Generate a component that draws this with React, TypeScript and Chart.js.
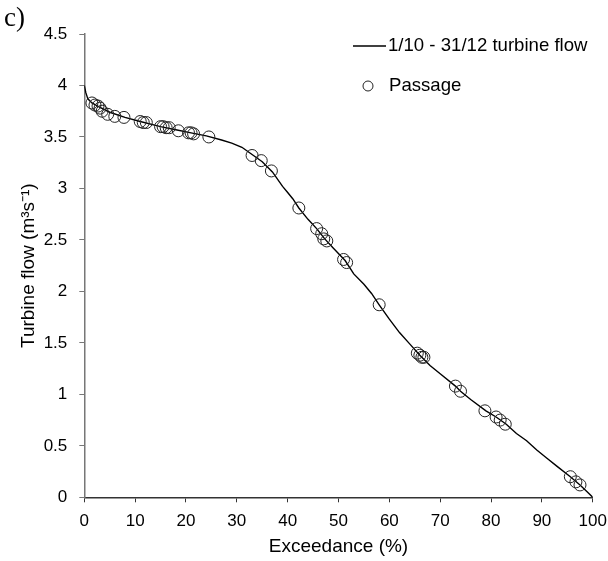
import React, { useEffect, useRef } from "react";
import { Chart, registerables } from "chart.js";

Chart.register(...registerables);

// Flow duration curve (1/10 - 31/12 turbine flow)
const curveExceedance = [
  0, 0.3, 0.7, 1.5, 3, 5, 8, 11, 15, 18, 21, 24, 27, 29, 31, 33, 35, 37, 39, 40,
  41, 42.2, 44, 45.7, 47.3, 49, 51.3, 53, 55, 56.5, 58, 60, 62, 64, 66, 68, 70,
  73, 74, 76, 79, 81, 83, 85, 87, 89, 91, 93, 95.6, 97.5, 99, 100,
];
const curveFlow = [
  4.0, 3.93, 3.87, 3.83, 3.79, 3.74, 3.69, 3.65, 3.6, 3.57, 3.54, 3.51, 3.47,
  3.44, 3.4, 3.33, 3.26, 3.16, 3.02, 2.96, 2.9, 2.81, 2.7, 2.61, 2.51, 2.42,
  2.3, 2.17, 2.07, 1.98, 1.87, 1.73, 1.6, 1.49, 1.38, 1.28, 1.2, 1.08, 1.03,
  0.95, 0.84, 0.78, 0.71, 0.62, 0.55, 0.46, 0.38, 0.3, 0.2, 0.12, 0.05, 0,
];

// Passage events
const passageExceedance = [
  1.5, 2.1, 2.7, 3.1, 3.5, 4.6, 6, 7.8, 11, 11.6, 12.2, 15, 15.5, 16.1, 16.7,
  18.5, 20.5, 21, 21.5, 24.5, 33, 34.8, 36.8, 42.2, 45.7, 46.7, 47.1, 47.7, 51,
  51.6, 58, 65.5, 66, 66.4, 66.8, 73, 74, 78.8, 81, 81.8, 82.8, 95.6, 96.7, 97.5,
];
const passageFlow = [
  3.83, 3.81, 3.8, 3.78, 3.75, 3.72, 3.7, 3.69, 3.65, 3.64, 3.64, 3.6, 3.6,
  3.59, 3.59, 3.56, 3.54, 3.54, 3.53, 3.5, 3.32, 3.27, 3.17, 2.81, 2.61, 2.56,
  2.51, 2.49, 2.31, 2.28, 1.87, 1.4, 1.38, 1.36, 1.36, 1.08, 1.03, 0.84, 0.78,
  0.75, 0.71, 0.2, 0.15, 0.12,
];

const xTicks = [0, 10, 20, 30, 40, 50, 60, 70, 80, 90, 100];
const yTicks = [0, 0.5, 1, 1.5, 2, 2.5, 3, 3.5, 4, 4.5];
const xTickLabels = ["0", "10", "20", "30", "40", "50", "60", "70", "80", "90", "100"];
const yTickLabels = ["0", "0.5", "1", "1.5", "2", "2.5", "3", "3.5", "4", "4.5"];

const seriesNames = ["1/10 - 31/12 turbine flow", "Passage"];
const panelLabel = "c)";
const xTitle = "Exceedance (%)";
const yTitle = "Turbine flow (m\u00B3s\u207B\u00B9)";

const FONT = "'Liberation Sans', Arial, sans-serif";

const W = 608;
const H = 561;
const AREA = { left: 84.3, right: 592.7, top: 34, bottom: 497.3 };

export default function App() {
  const ref = useRef<HTMLCanvasElement | null>(null);

  useEffect(() => {
    document.body.style.margin = "0";
    const canvas = ref.current;
    if (!canvas) return;

    const overlay = {
      id: "overlay",
      afterDraw(chart: any) {
        const ctx = chart.ctx as CanvasRenderingContext2D;
        ctx.save();
        // panel label
        ctx.fillStyle = "#000";
        ctx.font = "27px 'Liberation Serif', 'Times New Roman', serif";
        ctx.textAlign = "left";
        ctx.textBaseline = "alphabetic";
        ctx.fillText(panelLabel, 4, 26);
        // legend
        ctx.font = `18.6px ${FONT}`;
        ctx.textBaseline = "middle";
        ctx.strokeStyle = "#000";
        ctx.lineWidth = 1.5;
        ctx.beginPath();
        ctx.moveTo(353, 46);
        ctx.lineTo(386, 46);
        ctx.stroke();
        ctx.fillText(seriesNames[0], 388, 46);
        ctx.lineWidth = 1;
        ctx.strokeStyle = "#222";
        ctx.beginPath();
        ctx.arc(368, 86, 5, 0, Math.PI * 2);
        ctx.stroke();
        ctx.fillText(seriesNames[1], 389, 86);
        ctx.restore();
      },
    };

    const chart = new Chart(canvas, {
      type: "scatter",
      data: {
        datasets: [
          {
            label: seriesNames[0],
            data: curveExceedance.map((x, i) => ({ x, y: curveFlow[i] })),
            showLine: true,
            borderColor: "#000",
            borderWidth: 1.4,
            pointRadius: 0,
            tension: 0,
            order: 2,
          },
          {
            label: seriesNames[1],
            data: passageExceedance.map((x, i) => ({ x, y: passageFlow[i] })),
            showLine: false,
            pointRadius: 6,
            pointBorderColor: "#222",
            pointBackgroundColor: "rgba(0,0,0,0)",
            pointBorderWidth: 1,
            order: 1,
          },
        ],
      },
      options: {
        responsive: false,
        animation: false,
        layout: {
          padding: { left: 0, top: AREA.top, right: W - AREA.right, bottom: 0 },
        },
        plugins: {
          legend: { display: false },
          tooltip: { enabled: false },
        },
        scales: {
          x: {
            type: "linear",
            min: 0,
            max: 100,
            afterBuildTicks: (axis: any) => {
              axis.ticks = xTicks.map((v) => ({ value: v }));
            },
            afterFit: (axis: any) => {
              axis.height = H - AREA.bottom;
              axis.paddingLeft = 0;
              axis.paddingRight = 0;
            },
            ticks: {
              color: "#000",
              font: { family: FONT, size: 17 },
              padding: 9,
              maxRotation: 0,
              autoSkip: false,
              callback: (v: any) => {
                const i = xTicks.indexOf(Number(v));
                return i >= 0 ? xTickLabels[i] : "";
              },
            },
            grid: {
              drawOnChartArea: false,
              drawTicks: true,
              tickLength: 5,
              color: "#333",
            },
            border: { display: true, color: "#333", width: 1.5 },
            title: {
              display: true,
              text: xTitle,
              color: "#000",
              font: { family: FONT, size: 19 },
              padding: { top: 0, bottom: 3 },
            },
          },
          y: {
            type: "linear",
            min: 0,
            max: 4.5,
            afterBuildTicks: (axis: any) => {
              axis.ticks = yTicks.map((v) => ({ value: v }));
            },
            afterFit: (axis: any) => {
              axis.width = AREA.left;
              axis.paddingTop = 0;
              axis.paddingBottom = 0;
            },
            ticks: {
              color: "#000",
              font: { family: FONT, size: 17 },
              padding: 12,
              autoSkip: false,
              callback: (v: any) => {
                const i = yTicks.indexOf(Number(v));
                return i >= 0 ? yTickLabels[i] : "";
              },
            },
            grid: {
              drawOnChartArea: false,
              drawTicks: true,
              tickLength: 5,
              color: "#777",
            },
            border: { display: true, color: "#777", width: 1.5 },
            title: {
              display: true,
              text: yTitle,
              color: "#000",
              font: { family: FONT, size: 19 },
              padding: { top: 17, bottom: 0 },
            },
          },
        },
      },
      plugins: [overlay],
    });

    return () => {
      chart.destroy();
    };
  }, []);

  return (
    <div style={{ width: W, height: H, position: "relative" }}>
      <canvas ref={ref} width={W} height={H} style={{ display: "block" }} />
    </div>
  );
}
